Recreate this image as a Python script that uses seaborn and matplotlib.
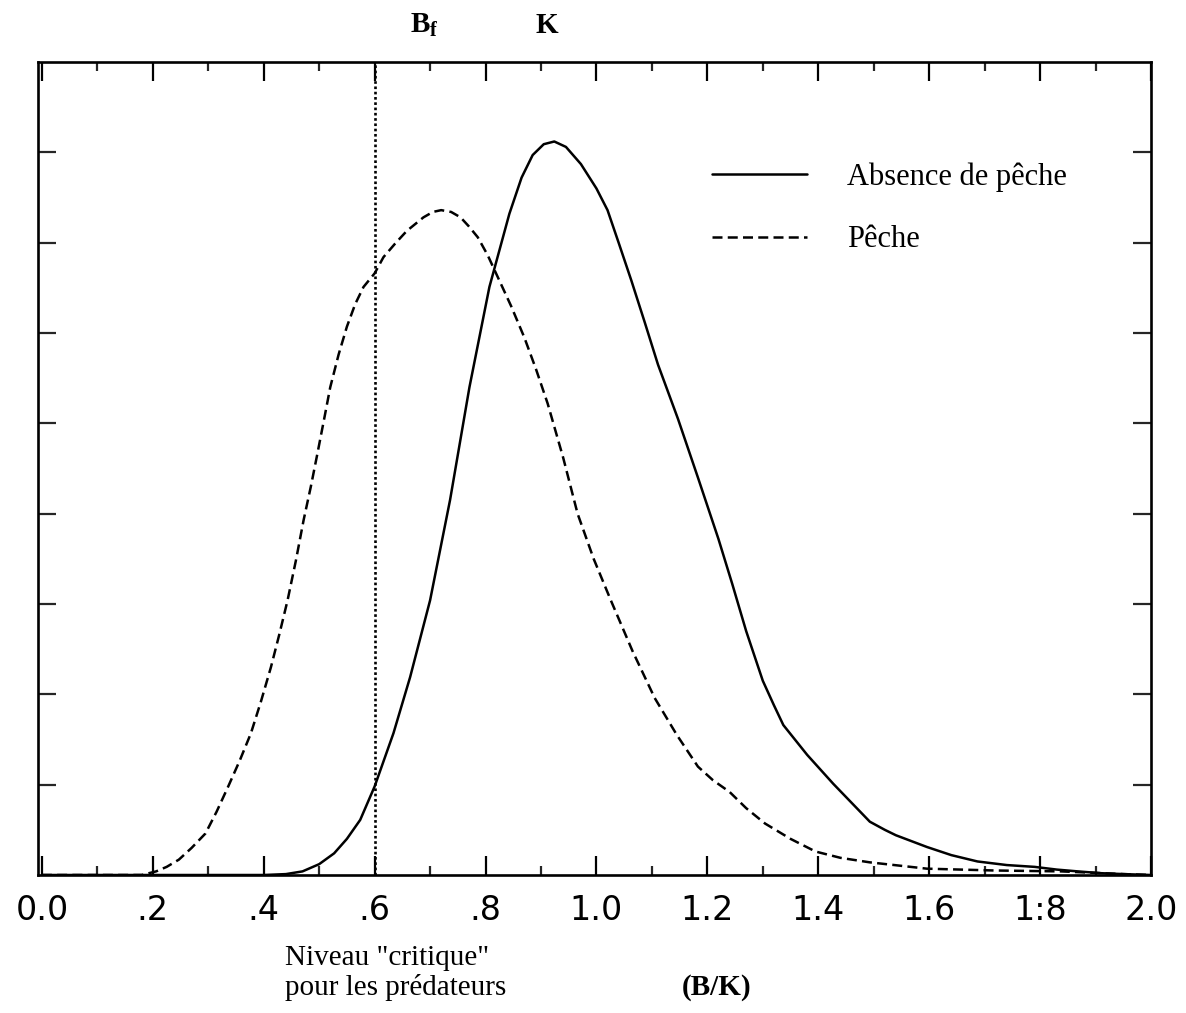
import numpy as np
import pandas as pd
import matplotlib
matplotlib.use('Agg')
import matplotlib.pyplot as plt
import seaborn as sns

# Courbes (abscisse B/K, ordonnee en unites de graduation)
x_sans_peche = [0.0, 0.40, 0.44, 0.47, 0.50, 0.527, 0.55, 0.574, 0.600, 0.634,
                0.664, 0.700, 0.736, 0.771, 0.807, 0.843, 0.865, 0.885, 0.905, 0.924,
                0.945, 0.972, 1.000, 1.020, 1.040, 1.063, 1.087, 1.111, 1.147, 1.183,
                1.220, 1.245, 1.270, 1.300, 1.320, 1.337, 1.380, 1.427, 1.460, 1.493,
                1.520, 1.540, 1.596, 1.640, 1.687, 1.740, 1.790, 1.830, 1.868, 1.910,
                1.950, 2.000]
y_sans_peche = [0.0, 0.0, 0.01, 0.04, 0.12, 0.24, 0.40, 0.61, 0.98, 1.57,
                2.19, 3.04, 4.15, 5.40, 6.51, 7.32, 7.72, 7.97, 8.09, 8.12,
                8.06, 7.87, 7.60, 7.36, 7.00, 6.58, 6.12, 5.65, 5.05, 4.40,
                3.72, 3.22, 2.70, 2.15, 1.88, 1.66, 1.33, 1.01, 0.80, 0.59,
                0.50, 0.44, 0.31, 0.22, 0.15, 0.11, 0.09, 0.06, 0.04, 0.02,
                0.01, 0.0]

x_peche = [0.0, 0.18, 0.206, 0.225, 0.247, 0.270, 0.295, 0.315, 0.336, 0.357,
           0.377, 0.395, 0.413, 0.428, 0.443, 0.458, 0.472, 0.485, 0.497, 0.510,
           0.520, 0.535, 0.550, 0.565, 0.580, 0.600, 0.616, 0.637, 0.658, 0.688,
           0.705, 0.720, 0.738, 0.755, 0.770, 0.786, 0.804, 0.822, 0.846, 0.870,
           0.891, 0.912, 0.940, 0.966, 0.995, 1.026, 1.065, 1.105, 1.145, 1.183,
           1.210, 1.240, 1.270, 1.304, 1.350, 1.395, 1.440, 1.493, 1.596, 1.717,
           1.838, 1.950, 2.000]
y_peche = [0.0, 0.0, 0.04, 0.09, 0.17, 0.30, 0.46, 0.70, 0.98, 1.27,
           1.57, 1.92, 2.30, 2.66, 3.04, 3.48, 3.93, 4.30, 4.67, 5.08,
           5.40, 5.76, 6.07, 6.32, 6.51, 6.66, 6.84, 6.99, 7.13, 7.28,
           7.34, 7.36, 7.34, 7.28, 7.18, 7.06, 6.86, 6.62, 6.30, 5.95,
           5.60, 5.22, 4.62, 4.00, 3.50, 3.04, 2.48, 1.96, 1.55, 1.20,
           1.05, 0.92, 0.74, 0.57, 0.40, 0.26, 0.19, 0.14, 0.07, 0.05,
           0.04, 0.01, 0.0]

x_ticks = [0.0, 0.2, 0.4, 0.6, 0.8, 1.0, 1.2, 1.4, 1.6, 1.8, 2.0]
x_tick_labels = ['0.0', '.2', '.4', '.6', '.8', '1.0', '1.2', '1.4', '1.6', '1:8', '2.0']
x_minor_ticks = [0.1, 0.3, 0.5, 0.7, 0.9, 1.1, 1.3, 1.5, 1.7, 1.9]
y_ticks = [1, 2, 3, 4, 5, 6, 7, 8]
niveau_critique = 0.6
pos_bf = 0.69
pos_k = 0.91

sns.set_style('white')
plt.rcParams['font.family'] = ['DejaVu Sans']
plt.rcParams['text.color'] = 'black'
plt.rcParams['mathtext.fontset'] = 'custom'
plt.rcParams['mathtext.rm'] = 'Liberation Serif'
plt.rcParams['mathtext.bf'] = 'Liberation Serif:bold'
plt.rcParams['mathtext.it'] = 'Liberation Serif:italic'

W, H = 1186, 1013
fig = plt.figure(figsize=(W / 100, H / 100), dpi=100)
ax = fig.add_axes([38 / W, 1 - 875 / H, (1151 - 38) / W, (875 - 62) / H])

df_sans = pd.DataFrame({'BK': x_sans_peche, 'densite': y_sans_peche})
df_peche = pd.DataFrame({'BK': x_peche, 'densite': y_peche})

sns.lineplot(data=df_sans, x='BK', y='densite', ax=ax, color='black', lw=1.8,
             sort=False, estimator=None, label='Absence de pêche')
sns.lineplot(data=df_peche, x='BK', y='densite', ax=ax, color='black', lw=1.8,
             sort=False, estimator=None, linestyle=(0, (4.0, 2.1)), label='Pêche')
ax.axvline(niveau_critique, color='black', lw=1.9, linestyle=(0, (1, 1.0)))

ax.set_xlim(-0.007, 2.0)
ax.set_ylim(0, 9)
ax.set_xticks(x_ticks)
ax.set_xticklabels(x_tick_labels)
ax.set_xticks(x_minor_ticks, minor=True)
ax.set_yticks(y_ticks)
ax.set_xlabel('')
ax.set_ylabel('')

for s in ax.spines.values():
    s.set_visible(True)
    s.set_linewidth(1.9)
    s.set_color('black')

ax.tick_params(axis='x', which='major', direction='in', length=13.5, width=1.6,
               top=True, bottom=True, labelsize=24, pad=14, colors='black')
ax.tick_params(axis='x', which='minor', direction='in', length=6.5, width=1.6,
               top=True, bottom=True)
ax.tick_params(axis='y', which='major', direction='in', length=13, width=1.6,
               left=True, right=True, labelleft=False)

leg = ax.legend(loc='center left', bbox_to_anchor=(0.595, 0.820), frameon=False,
                handlelength=3.1, handletextpad=1.3, labelspacing=1.1,
                borderaxespad=0, prop={'family': 'Liberation Serif', 'size': 22})

ax.text(pos_bf, 1.045, r'$\mathbf{B_f}$', transform=ax.get_xaxis_transform(),
        ha='center', va='center', fontsize=21)
ax.text(pos_k, 1.045, 'K', transform=ax.get_xaxis_transform(), ha='center',
        va='center', fontsize=21, family='Liberation Serif', weight='bold')

fig.text(285 / W, 1 - 958 / H, 'Niveau "critique"', ha='left', va='center',
         fontsize=21, family='Liberation Serif')
fig.text(285 / W, 1 - 987 / H, 'pour les prédateurs', ha='left', va='center',
         fontsize=21, family='Liberation Serif')
fig.text(717 / W, 1 - 987 / H, '(B/K)', ha='center', va='center',
         fontsize=21, family='Liberation Serif', weight='bold')

fig.savefig('out.png', dpi=100)
